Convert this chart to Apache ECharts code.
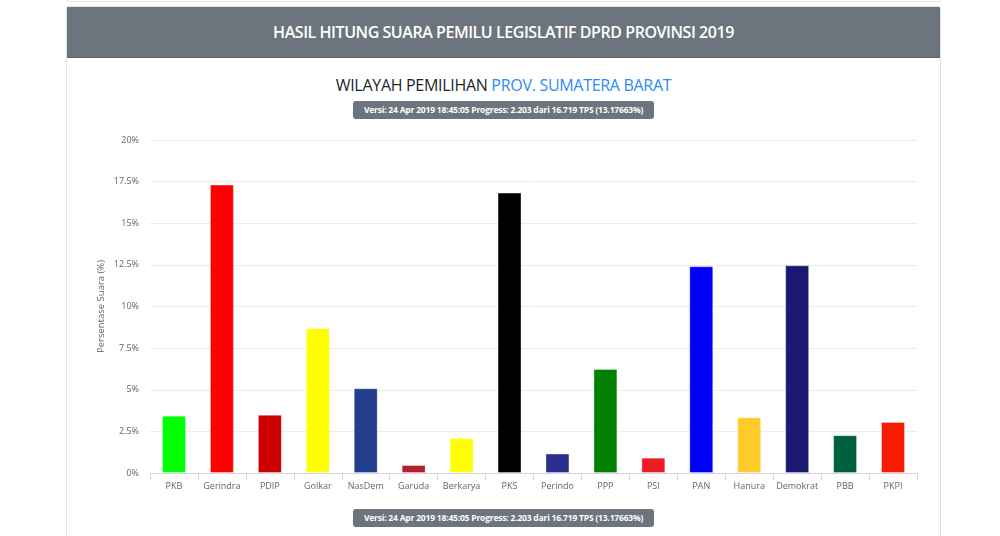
<!DOCTYPE html>
<html>
<head>
<meta charset="utf-8">
<title>Hasil Hitung Suara DPRD Provinsi 2019</title>
<script src="https://cdn.jsdelivr.net/npm/echarts@6/dist/echarts.min.js"></script>
<style>
  html, body { margin: 0; padding: 0; background: #fff; width: 1000px; height: 536px; overflow: hidden; font-family: "Open Sans", "Noto Sans", sans-serif; }
  .prev { position: absolute; left: 66px; top: -10px; width: 874px; height: 11px; border: 1px solid #e2e2e2; border-top: none; border-radius: 0 0 4px 4px; }
  .card { position: absolute; left: 66px; top: 6px; width: 873px; height: 600px; border: 1px solid #e2e2e2; border-radius: 3px; }
  .card-head { height: 50px; background: #6c757d; border-bottom: 1px solid #5a6268; color: #fff; text-align: center; line-height: 51px; font-size: 16px; font-weight: 600; letter-spacing: -0.45px; }
  .sub { position: absolute; left: 0; width: 100%; top: 67px; text-align: center; font-size: 16px; color: #212529; letter-spacing: -0.3px; }
  .sub span { color: #2b8cf5; }
  .badge { position: absolute; left: 286px; width: 301px; height: 18px; line-height: 18px; background: #6c757d; color: #fff; border-radius: 3px; text-align: center; font-size: 8.5px; font-weight: 700; letter-spacing: -0.2px; }
  #chart { position: absolute; left: 0; top: 0; width: 1000px; height: 536px; }
</style>
</head>
<body>
<div class="prev"></div>
<div class="card">
  <div class="card-head">HASIL HITUNG SUARA PEMILU LEGISLATIF DPRD PROVINSI 2019</div>
  <div class="sub">WILAYAH PEMILIHAN <span>PROV. SUMATERA BARAT</span></div>
  <div class="badge" style="top:94px">Versi: 24 Apr 2019 18:45:05 Progress: 2.203 dari 16.719 TPS (13.17663%)</div>
  <div class="badge" style="top:502px">Versi: 24 Apr 2019 18:45:05 Progress: 2.203 dari 16.719 TPS (13.17663%)</div>
</div>
<div id="chart"></div>
<script>
var partai = ['PKB', 'Gerindra', 'PDIP', 'Golkar', 'NasDem', 'Garuda', 'Berkarya', 'PKS',
              'Perindo', 'PPP', 'PSI', 'PAN', 'Hanura', 'Demokrat', 'PBB', 'PKPI'];
var persen = [3.44, 17.32, 3.50, 8.70, 5.09, 0.48, 2.10, 16.84,
              1.17, 6.25, 0.92, 12.42, 3.35, 12.47, 2.27, 3.07];
var warna = ['#00ff00', '#ff0000', '#cc0000', '#ffff00', '#233f8c', '#b3212b', '#ffff00', '#000000',
             '#2b2e8c', '#008000', '#ec1c24', '#0000ff', '#ffcb29', '#191970', '#006140', '#fa1c00'];

var myChart = echarts.init(document.getElementById('chart'));
var option = {
    animation: false,
    grid: {
        left: 150,
        right: 83,
        top: 140,
        bottom: 63
    },
    xAxis: {
        type: 'category',
        data: partai,
        axisLine: { lineStyle: { color: '#ccd6eb' } },
        axisTick: { show: true, interval: 0, length: 7, lineStyle: { color: '#ccd6eb' } },
        axisLabel: { interval: 0, color: '#666', fontSize: 9, margin: 9, fontFamily: 'Open Sans' }
    },
    yAxis: {
        type: 'value',
        min: 0,
        max: 20,
        interval: 2.5,
        name: 'Persentase Suara (%)',
        nameLocation: 'middle',
        nameGap: 44,
        nameMoveOverlap: false,
        nameTextStyle: { color: '#666', fontSize: 9.5, fontFamily: 'Open Sans' },
        axisLabel: {
            color: '#666', fontSize: 9, margin: 11, fontFamily: 'Open Sans',
            formatter: function (v) { return v + '%'; }
        },
        splitLine: { lineStyle: { color: '#ebebeb' } }
    },
    series: [{
        name: 'Persentase Suara',
        type: 'bar',
        barWidth: '50%',
        data: persen.map(function (v, i) {
            return { value: v, itemStyle: { color: warna[i] } };
        }),
        itemStyle: { borderColor: 'rgba(255,255,255,0.35)', borderWidth: 1 }
    }]
};
myChart.setOption(option);
</script>
</body>
</html>
